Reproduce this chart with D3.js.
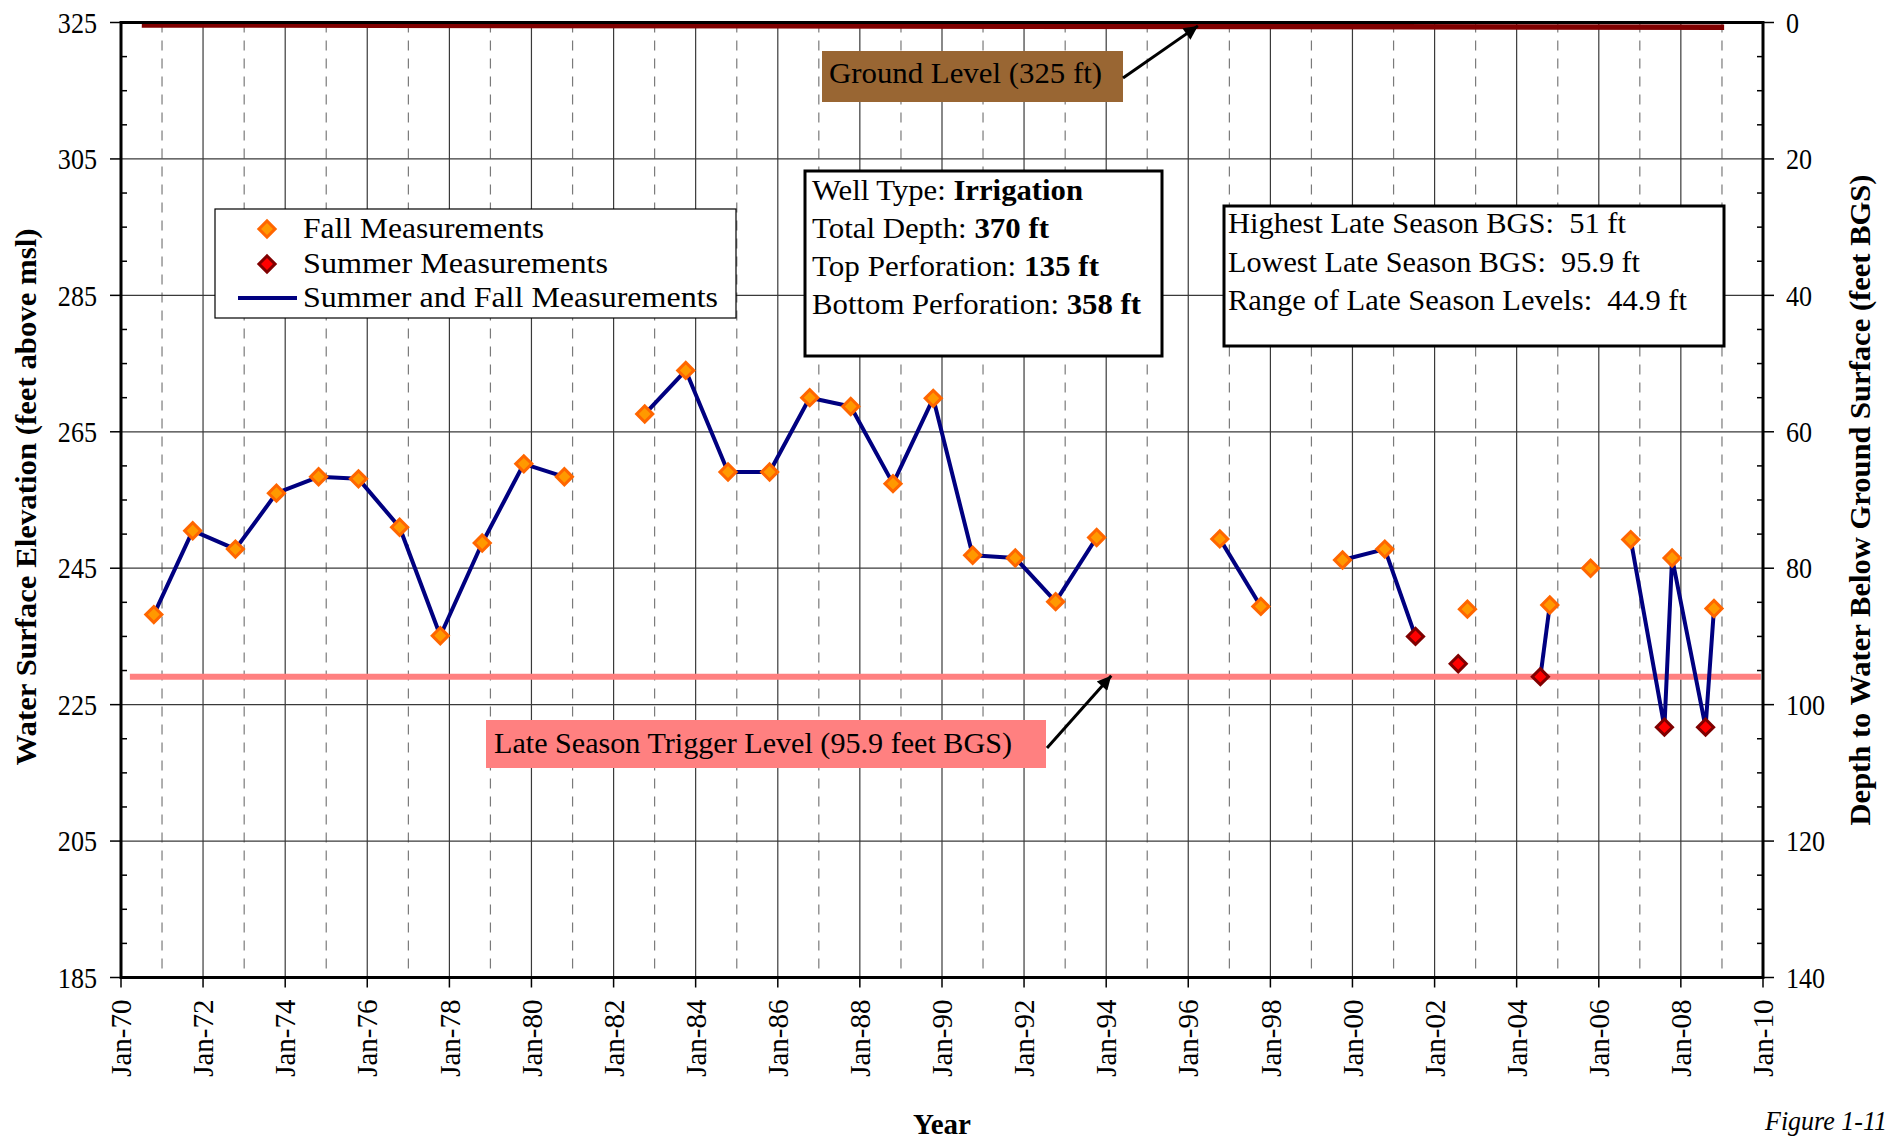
<!DOCTYPE html>
<html><head><meta charset="utf-8">
<script src="https://cdn.jsdelivr.net/npm/d3@7"></script>
<style>
body{margin:0;background:#fff;overflow:hidden}
svg{display:block}
text{font-family:"Liberation Serif","Times New Roman",serif;fill:#000}
</style>
</head><body>
<svg id="c" width="1892" height="1139"></svg>
<script>
// ---------------- DATA ----------------
const measDates = ["1970-10-20","1971-10-01","1972-10-15","1973-10-15","1974-10-25","1975-10-15","1976-10-15","1977-10-12","1978-10-20","1979-10-25","1980-10-20",
  "1982-10-05","1983-10-05","1984-10-15","1985-10-20","1986-10-12","1987-10-12","1988-10-22","1989-10-15","1990-10-01","1991-10-15","1992-10-08","1993-10-08",
  "1996-10-08","1997-10-08","1999-10-05","2000-10-15","2001-07-15","2002-07-30","2002-10-20","2004-07-30","2004-10-22","2005-10-20",
  "2006-10-12","2007-08-08","2007-10-15","2008-08-08","2008-10-22"];
const measValues = [238.2,250.5,247.8,256.0,258.4,258.1,251.0,235.1,248.7,260.3,258.4,
  267.6,274.0,259.1,259.1,270.0,268.7,257.4,269.9,246.9,246.5,240.1,249.5,
  249.3,239.4,246.2,247.8,235.0,231.0,239.0,229.1,239.6,245.0,
  249.2,221.7,246.5,221.7,239.1];
const measSeason = ["F","F","F","F","F","F","F","F","F","F","F",
  "F","F","F","F","F","F","F","F","F","F","F","F",
  "F","F","F","F","S","S","F","S","F","F",
  "F","S","F","S","F"];
// connected runs of the "Summer and Fall Measurements" line
const measSegment = [0,0,0,0,0,0,0,0,0,0,0,
  1,1,1,1,1,1,1,1,1,1,1,1,
  2,2,3,3,3,4,5,6,6,7,
  8,8,8,8,8];

const groundDates = ["1970-07-05","2009-01-20"];
const groundValues = [324.65,324.3];
const groundLabel = "Ground Level (325 ft)";
const triggerDepth = 95.9;     // feet BGS
const groundElevation = 325;
const triggerDates = ["1970-03-21","2009-12-13"];
const triggerLabel = "Late Season Trigger Level (95.9 feet BGS)";

const yTicks = [185,205,225,245,265,285,305,325];
const depthTicks = [0,20,40,60,80,100,120,140];
const xTickYears = [1970,1972,1974,1976,1978,1980,1982,1984,1986,1988,1990,1992,1994,1996,1998,2000,2002,2004,2006,2008,2010];

const legendLabels = ["Fall Measurements","Summer Measurements","Summer and Fall Measurements"];
const wellLines = [["Well Type: ","Irrigation"],["Total Depth: ","370 ft"],["Top Perforation: ","135 ft"],["Bottom Perforation: ","358 ft"]];
const statLines = ["Highest Late Season BGS:  51 ft","Lowest Late Season BGS:  95.9 ft","Range of Late Season Levels:  44.9 ft"];

// ---------------- SETUP ----------------
const parse = d3.utcParse("%Y-%m-%d");
const svg = d3.select("#c");
const L = 121, R = 1763, T = 22.5, B = 977.5;

const x = d3.scaleUtc().domain([Date.UTC(1970,0,1), Date.UTC(2010,0,1)]).range([L,R]);
const y = d3.scaleLinear().domain([185,325]).range([B,T]);
const yDepth = d3.scaleLinear().domain([140,0]).range([B,T]);

function fit(sel, w){ sel.attr("textLength", w).attr("lengthAdjust","spacingAndGlyphs"); }

const meas = measDates.map((d,i)=>({date:parse(d), value:measValues[i], season:measSeason[i], seg:measSegment[i]}));

// ---------------- GRID ----------------
const grid = svg.append("g");
const years = d3.range(1971, 2010);
grid.selectAll("line.v").data(years).join("line")
  .attr("x1", d=>x(Date.UTC(d,0,1))).attr("x2", d=>x(Date.UTC(d,0,1)))
  .attr("y1", T).attr("y2", B)
  .attr("stroke", d=> d%2 ? "#7a7a7a" : "#3a3a3a")
  .attr("stroke-width", 1.2)
  .attr("stroke-dasharray", d=> d%2 ? "10,8" : null);
grid.selectAll("line.h").data(yTicks.filter(v=>v>185 && v<325)).join("line")
  .attr("x1", L).attr("x2", R).attr("y1", d=>y(d)).attr("y2", d=>y(d))
  .attr("stroke","#3a3a3a").attr("stroke-width",1.2);

// ---------------- REFERENCE LINES ----------------
svg.append("line")
  .attr("x1", x(parse(triggerDates[0]))).attr("x2", x(parse(triggerDates[1])))
  .attr("y1", yDepth(triggerDepth)).attr("y2", yDepth(triggerDepth))
  .attr("stroke","#ff8080").attr("stroke-width",6);

svg.append("path")
  .datum(groundDates.map((d,i)=>({date:parse(d), value:groundValues[i]})))
  .attr("d", d3.line().x(d=>x(d.date)).y(d=>y(d.value)))
  .attr("fill","none").attr("stroke","#800000").attr("stroke-width",5.5);

// ---------------- DATA LINE ----------------
const segs = d3.groups(meas, d=>d.seg);
svg.append("g").selectAll("path").data(segs).join("path")
  .attr("d", d=>d3.line().x(p=>x(p.date)).y(p=>y(p.value))(d[1]))
  .attr("fill","none").attr("stroke","#000080").attr("stroke-width",4).attr("stroke-linejoin","round");

// ---------------- MARKERS ----------------
const sym = d3.symbol().type(d3.symbolSquare).size(130);
function markerStyle(sel, season){
  sel.attr("fill", season==="S" ? "#ff0000" : "#ff9900")
     .attr("stroke", season==="S" ? "#800000" : "#ff6600")
     .attr("stroke-width", 3).attr("stroke-linejoin","miter");
}
svg.append("g").selectAll("path").data(meas).join("path")
  .attr("d", sym())
  .attr("transform", d=>`translate(${x(d.date)},${y(d.value)}) rotate(45)`)
  .each(function(d){ markerStyle(d3.select(this), d.season); });

// ---------------- AXES FRAME ----------------
const ax = svg.append("g");
const minor = d3.range(190,325,5).filter(v=>(v-185)%20!==0);
ax.selectAll("line.ml").data(minor).join("line")
  .attr("x1",L).attr("x2",L+6).attr("y1",d=>y(d)).attr("y2",d=>y(d)).attr("stroke","#000").attr("stroke-width",1.5);
ax.selectAll("line.mr").data(minor).join("line")
  .attr("x1",R-6).attr("x2",R).attr("y1",d=>y(d)).attr("y2",d=>y(d)).attr("stroke","#000").attr("stroke-width",1.5);
ax.selectAll("line.tl").data(yTicks).join("line")
  .attr("x1",L-11).attr("x2",L).attr("y1",d=>y(d)).attr("y2",d=>y(d)).attr("stroke","#000").attr("stroke-width",1.5);
ax.selectAll("line.tr").data(depthTicks).join("line")
  .attr("x1",R).attr("x2",R+11).attr("y1",d=>yDepth(d)).attr("y2",d=>yDepth(d)).attr("stroke","#000").attr("stroke-width",1.5);
ax.selectAll("line.tb").data(xTickYears).join("line")
  .attr("x1",d=>x(Date.UTC(d,0,1))).attr("x2",d=>x(Date.UTC(d,0,1))).attr("y1",B).attr("y2",B+10).attr("stroke","#000").attr("stroke-width",1.5);
ax.append("rect").attr("x",L).attr("y",T).attr("width",R-L).attr("height",B-T)
  .attr("fill","none").attr("stroke","#000").attr("stroke-width",3);

ax.selectAll("text.yl").data(yTicks).join("text")
  .attr("x", L-24).attr("y", d=>y(d)).attr("dy","0.35em").attr("text-anchor","end")
  .attr("font-size",29).text(d=>d)
  .each(function(){ const w=this.getComputedTextLength(); fit(d3.select(this), w*0.9); });
ax.selectAll("text.yr").data(depthTicks).join("text")
  .attr("x", R+23).attr("y", d=>yDepth(d)).attr("dy","0.35em").attr("text-anchor","start")
  .attr("font-size",29).text(d=>d)
  .each(function(){ const w=this.getComputedTextLength(); fit(d3.select(this), w*0.9); });
const fmt = d3.utcFormat("%b-%y");
ax.selectAll("text.xl").data(xTickYears).join("text")
  .attr("transform", d=>`translate(${x(Date.UTC(d,0,1))},${B+22}) rotate(-90)`)
  .attr("dy","0.35em").attr("text-anchor","end").attr("font-size",29)
  .text(d=>fmt(new Date(Date.UTC(d,0,1))));

// axis titles
svg.append("text").attr("transform",`translate(36,497) rotate(-90)`)
  .attr("text-anchor","middle").attr("font-weight","bold").attr("font-size",30)
  .text("Water Surface Elevation (feet above msl)").call(fit,537);
svg.append("text").attr("transform",`translate(1870,${(T+B)/2}) rotate(-90)`)
  .attr("text-anchor","middle").attr("font-weight","bold").attr("font-size",30)
  .text("Depth to Water Below Ground Surface (feet BGS)").call(fit,651);
svg.append("text").attr("x",942).attr("y",1134).attr("text-anchor","middle")
  .attr("font-weight","bold").attr("font-size",29).text("Year").call(fit,58);
svg.append("text").attr("x",1765).attr("y",1130).attr("font-style","italic")
  .attr("font-size",27).text("Figure 1-11").call(fit,122);

// ---------------- ANNOTATIONS ----------------
const defs = svg.append("defs");
defs.append("marker").attr("id","arr").attr("viewBox","0 0 10 10").attr("refX",10).attr("refY",5)
  .attr("markerWidth",18).attr("markerHeight",14).attr("markerUnits","userSpaceOnUse").attr("orient","auto")
  .append("path").attr("d","M0,0 L10,5 L0,10 z").attr("fill","#000");

svg.append("rect").attr("x",822).attr("y",51).attr("width",301).attr("height",51).attr("fill","#996633");
svg.append("text").attr("x",829).attr("y",83).attr("font-size",29).text(groundLabel).call(fit,273);
svg.append("line").attr("x1",1123).attr("y1",78)
  .attr("x2",x(parse("1996-03-27"))).attr("y2",y(groundValues[0])+1)
  .attr("stroke","#000").attr("stroke-width",3).attr("marker-end","url(#arr)");

svg.append("rect").attr("x",486).attr("y",720).attr("width",560).attr("height",48).attr("fill","#ff8080");
svg.append("text").attr("x",494).attr("y",753).attr("font-size",29).text(triggerLabel).call(fit,518);
svg.append("line").attr("x1",1047).attr("y1",748)
  .attr("x2",x(parse("1994-02-15"))).attr("y2",yDepth(triggerDepth)-1)
  .attr("stroke","#000").attr("stroke-width",3).attr("marker-end","url(#arr)");

svg.append("rect").attr("x",805).attr("y",171).attr("width",357).attr("height",185)
  .attr("fill","#fff").attr("stroke","#000").attr("stroke-width",3);
const wellW = [271,237,287,329];
const wellY = [200,238,276,314];
wellLines.forEach((ln,i)=>{
  const t = svg.append("text").attr("x",812).attr("y",wellY[i]).attr("font-size",29).style("white-space","pre");
  t.append("tspan").text(ln[0]);
  t.append("tspan").attr("font-weight","bold").text(ln[1]);
  fit(t, wellW[i]);
});

svg.append("rect").attr("x",1224).attr("y",206).attr("width",500).attr("height",140)
  .attr("fill","#fff").attr("stroke","#000").attr("stroke-width",3);
const statW = [398,412,459];
const statY = [233,272,310];
statLines.forEach((s,i)=>{
  svg.append("text").attr("x",1228).attr("y",statY[i]).attr("font-size",29)
    .style("white-space","pre").text(s).call(fit,statW[i]);
});

const lg = svg.append("g");
lg.append("rect").attr("x",215).attr("y",209).attr("width",521).attr("height",109)
  .attr("fill","#fff").attr("stroke","#000").attr("stroke-width",1.2);
const legY = [229,264,298];
lg.append("path").attr("d",sym()).attr("transform",`translate(267,${legY[0]}) rotate(45)`).call(markerStyle,"F");
lg.append("path").attr("d",sym()).attr("transform",`translate(267,${legY[1]}) rotate(45)`).call(markerStyle,"S");
lg.append("line").attr("x1",238).attr("x2",297).attr("y1",legY[2]).attr("y2",legY[2])
  .attr("stroke","#000080").attr("stroke-width",4);
const legW = [241,305,415];
legendLabels.forEach((s,i)=>{
  lg.append("text").attr("x",303).attr("y",legY[i]+9).attr("font-size",29).text(s).call(fit,legW[i]);
});
</script>
</body></html>
